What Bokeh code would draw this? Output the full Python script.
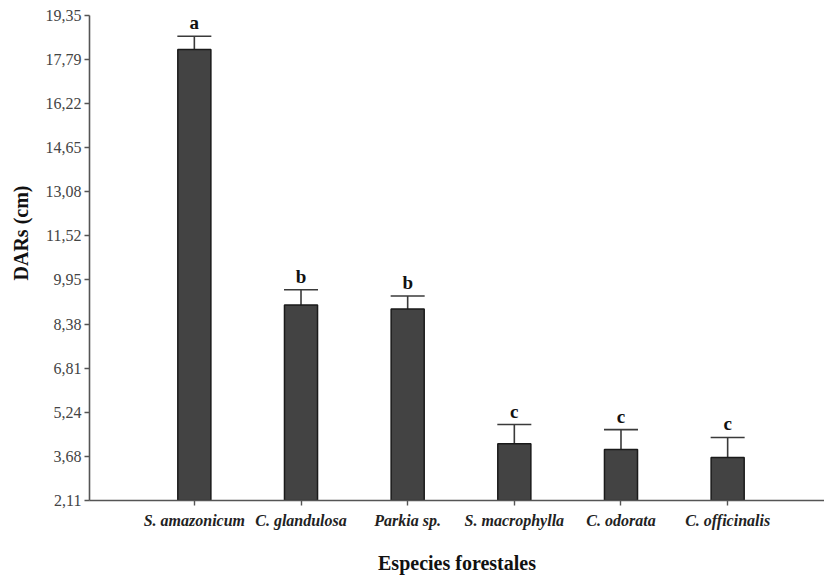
from bokeh.plotting import figure
from bokeh.models import (Range1d, FixedTicker, CustomJSTickFormatter, ColumnDataSource,
                          Whisker, TeeHead, Title)
from bokeh.core.properties import value
from bokeh.embed import file_html
from bokeh.resources import INLINE

species = ["S. amazonicum", "C. glandulosa", "Parkia sp.", "S. macrophylla", "C. odorata", "C. officinalis"]
means = [18.14, 9.06, 8.92, 4.13, 3.92, 3.64]
errors = [0.47, 0.54, 0.46, 0.68, 0.71, 0.71]
letters = ["a", "b", "b", "c", "c", "c"]
y_ticks = [2.11, 3.68, 5.24, 6.81, 8.38, 9.95, 11.52, 13.08, 14.65, 16.22, 17.79, 19.35]

positions = list(range(1, len(species) + 1))
upper = [m + e for m, e in zip(means, errors)]

src = ColumnDataSource(dict(x=positions, top=means, upper=upper, letter=letters))

FONT = "Liberation Serif"

p = figure(width=824, height=576, output_backend="svg", toolbar_location=None,
           x_range=Range1d(0.017, 6.908), y_range=Range1d(y_ticks[0], y_ticks[-1]),
           min_border_left=88, min_border_right=0, min_border_top=15, min_border_bottom=75)
p.background_fill_color = "white"
p.outline_line_color = None
p.xgrid.visible = False
p.ygrid.visible = False

p.vbar(x="x", top="top", bottom=y_ticks[0], width=0.31, source=src,
       fill_color="#434343", line_color="#1a1a1a", line_width=1.5)

w = Whisker(base="x", upper="upper", lower="top", source=src, dimension="height",
            line_color="#3a3a3a", line_width=1.6,
            upper_head=TeeHead(size=34, line_color="#3a3a3a", line_width=1.6),
            lower_head=None)
p.add_layout(w)

p.text(x="x", y="upper", text="letter", source=src, text_align="center",
       text_baseline="bottom", y_offset=-3, text_font=value(FONT),
       text_font_style="bold", text_font_size="19px", text_color="#111111")

# axes
for ax in (p.xaxis[0], p.yaxis[0]):
    ax.axis_line_color = "#555555"
    ax.axis_line_width = 1.6
    ax.major_tick_line_color = "#555555"
    ax.major_tick_line_width = 1.4
    ax.minor_tick_line_color = None
    ax.major_tick_in = 0

p.yaxis.ticker = FixedTicker(ticks=y_ticks)
p.yaxis.formatter = CustomJSTickFormatter(code="return tick.toFixed(2).replace('.', ',');")
p.yaxis.major_tick_out = 5
p.yaxis.major_label_standoff = 3
p.yaxis.major_label_text_font = FONT
p.yaxis.major_label_text_font_size = "16px"
p.yaxis.major_label_text_color = "#444444"

p.xaxis.ticker = FixedTicker(ticks=positions)
p.xaxis.formatter = CustomJSTickFormatter(args=dict(labels=species),
                                          code="return labels[Math.round(tick) - 1];")
p.xaxis.major_tick_out = 5
p.xaxis.major_label_standoff = 6
p.xaxis.major_label_text_font = FONT
p.xaxis.major_label_text_font_style = "bold italic"
p.xaxis.major_label_text_font_size = "16px"
p.xaxis.major_label_text_color = "#222222"
p.xaxis.axis_label = "Especies forestales"
p.xaxis.axis_label_text_font = FONT
p.xaxis.axis_label_text_font_style = "bold"
p.xaxis.axis_label_text_font_size = "20px"
p.xaxis.axis_label_text_color = "#111111"
p.xaxis.axis_label_standoff = 20

ytitle = Title(text="DARs (cm)", align="right", offset=170, vertical_align="top",
               standoff=18, text_font=FONT, text_font_style="bold",
               text_font_size="20px", text_color="#111111")
p.add_layout(ytitle, "left")

open("out.html", "w").write(file_html(p, INLINE))
